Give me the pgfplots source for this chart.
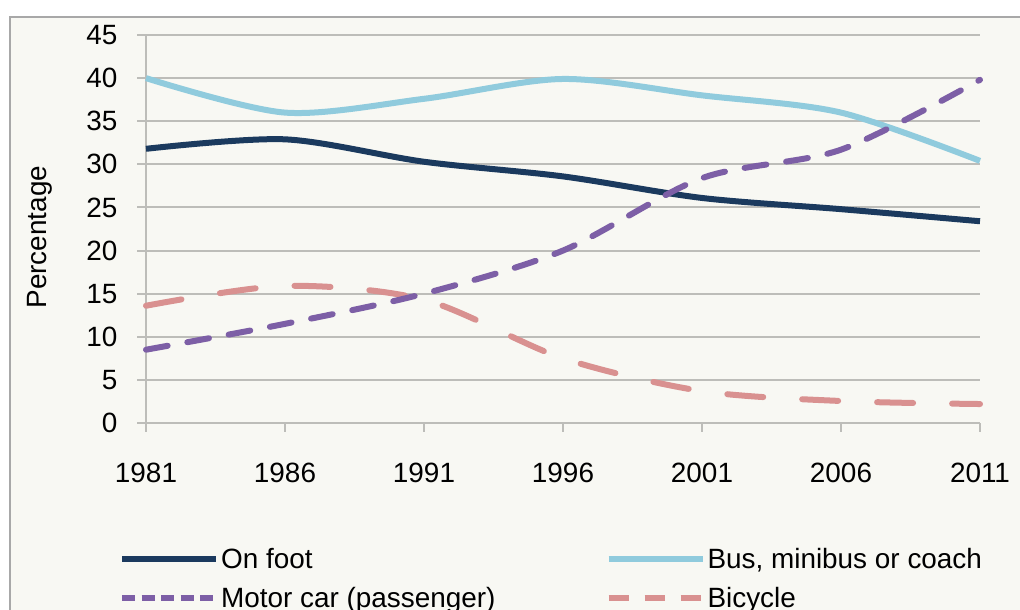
\documentclass[border=0pt]{standalone}
\usepackage{fontspec}
\setmainfont{Liberation Sans}
\usepackage{pgfplots}
\pgfplotsset{compat=1.18}
\definecolor{bg}{HTML}{F8F8F3}
\definecolor{foot}{HTML}{1B3A5E}
\definecolor{bus}{HTML}{90CBDD}
\definecolor{car}{HTML}{7D5FA6}
\definecolor{bike}{HTML}{D99190}
\definecolor{gridc}{HTML}{BDBDB9}
\definecolor{framec}{HTML}{A8A8A8}
\begin{document}
\begin{tikzpicture}
\useasboundingbox (0bp,0bp) rectangle (1020bp,610bp);
\fill[white] (0bp,0bp) rectangle (1020bp,610bp);
\filldraw[fill=bg, draw=framec, line width=1.5bp] (10bp,-20bp) rectangle (1040bp,593bp);
\begin{axis}[
  at={(146bp,187bp)}, anchor=south west,
  scale only axis, width=834bp, height=388bp,
  xmin=1981, xmax=2011, ymin=0, ymax=45,
  xtick={1981,1986,1991,1996,2001,2006,2011},
  xticklabels={1981,1986,1991,1996,2001,2006,2011},
  ytick={0,5,10,15,20,25,30,35,40,45},
  yticklabels={0,5,10,15,20,25,30,35,40,45},
  axis x line*=bottom, axis y line*=left,
  axis line style={gridc, line width=2bp},
  tick align=outside, major tick length=9bp,
  tick style={gridc, line width=2bp},
  ymajorgrids, grid style={gridc, line width=2bp},
  ticklabel style={font=\fontsize{28}{30}\selectfont, text=black},
  xticklabel style={yshift=-28bp},
  yticklabel style={xshift=-16bp},
  ylabel={Percentage},
  ylabel style={at={(axis description cs:-0.127,0.479)}, anchor=center, font=\fontsize{28}{30}\selectfont},
  clip=false,
  legend columns=2,
  legend image code/.code={\draw[#1] (0bp,0bp) -- (94bp,0bp);},
  legend style={at={(axis description cs:-0.036,-0.313)}, anchor=north west, draw=none, fill=none,
    font=\fontsize{28}{30}\selectfont, row sep=13bp,
    /tikz/every even column/.append style={column sep=108bp}},
  legend cell align=left,
]
\addplot[foot, line width=6bp, smooth, tension=0.5, forget plot] coordinates {
(1981,31.8) (1986,32.9) (1991,30.3) (1996,28.6) (2001,26.1) (2006,24.8) (2011,23.4)};
\addplot[bus, line width=6bp, smooth, tension=0.5, forget plot] coordinates {
(1981,40) (1986,36) (1991,37.6) (1996,39.9) (2001,38) (2006,36) (2011,30.4)};
\addplot[bike, line width=6bp, smooth, tension=0.5, line cap=round, dash pattern=on 36bp off 39bp, forget plot] coordinates {
(1981,13.6) (1986,15.9) (1991,14.3) (1996,7.5) (2001,3.7) (2006,2.55) (2011,2.2)};
\addplot[car, line width=6bp, smooth, tension=0.5, line cap=round, dash pattern=on 22bp off 20bp, forget plot] coordinates {
(1981,8.5) (1986,11.5) (1991,15) (1996,20) (2001,28.4) (2006,31.7) (2011,39.8)};
\addlegendimage{foot, line width=6bp}
\addlegendentry{On foot}
\addlegendimage{bus, line width=6bp}
\addlegendentry{Bus, minibus or coach}
\addlegendimage{car, line width=6bp, dash pattern=on 13bp off 6.5bp}
\addlegendentry{Motor car (passenger)}
\addlegendimage{bike, line width=6bp, dash pattern=on 20bp off 16bp}
\addlegendentry{Bicycle}
\end{axis}
\end{tikzpicture}
\end{document}
